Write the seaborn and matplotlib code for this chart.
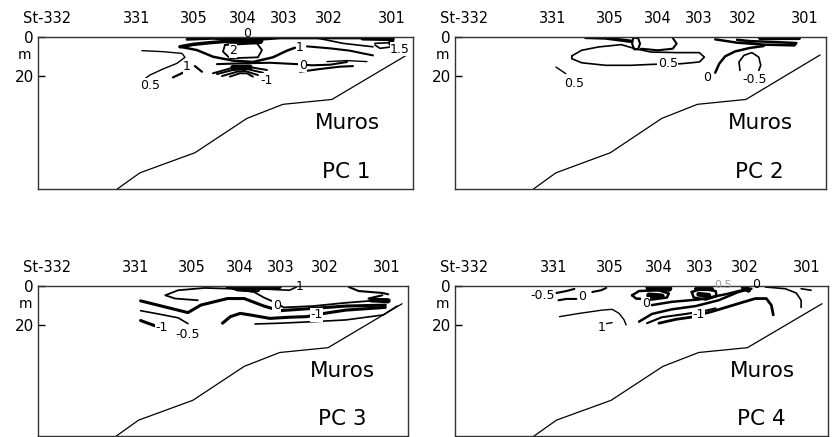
import matplotlib
matplotlib.use("Agg")
import matplotlib.pyplot as plt
import seaborn as sns

# ---------------- data ----------------
stations = ["St-332", "331", "305", "304", "303", "302", "301"]
station_x = [0.9, 9.9, 15.6, 20.5, 24.6, 29.1, 35.4]          # distance along section (km)
depth_ticks = [0, 20]                                          # m

bottom_x = [7.9, 10.2, 15.7, 20.9, 24.5, 29.4, 36.9]          # sea-floor profile
bottom_d = [78.0, 69.6, 59.3, 41.7, 34.5, 32.0, 9.2]

panel_names = ["PC 1", "PC 2", "PC 3", "PC 4"]
place_name = "Muros"

# contour isolines: name -> (distance, depth)
PC1_LINES = {
    "zero_top": ([14.9, 17.5, 19.5, 22.2, 24.2, 29.5, 32.2, 35.5], [1.2, 0.7, 1.2, 1.2, 0.5, 0.5, 0.5, 0.85]),
    "blob304": ([18.9, 22.2], [1.6, 1.9]),
    "blob301": ([32.5, 35.4, 35.3], [0.4, 0.7, 3.2]),
    "one_up": ([14.2, 15.5, 17.2, 18.9], [5.0, 3.8, 2.9, 2.2]),
    "one": ([14.2, 15.9, 17.5, 19.5, 21.5, 23.5, 24.9, 25.7], [5.0, 6.7, 10.1, 12.1, 12.8, 10.4, 7.0, 5.5]),
    "one_r": ([26.9, 29.2, 31.2, 32.5, 33.5], [4.8, 5.8, 7.0, 8.4, 9.4]),
    "two": ([18.7, 21.9, 22.4, 22.0, 19.2, 18.5, 18.7], [4.1, 3.25, 6.7, 10.4, 10.9, 7.5, 4.1]),
    "zero": ([17.9, 20.2, 23.2, 25.9, 27.4, 29.2, 30.9], [13.9, 13.5, 13.2, 13.9, 14.5, 14.2, 12.8]),
    "r1": ([28.9, 30.9, 32.9], [12.6, 12.1, 12.6]),
    "r2": ([26.2, 28.2, 30.2, 31.5], [17.8, 16.4, 15.2, 14.9]),
    "one_half": ([33.7, 35.2, 35.5, 34.2, 33.7], [3.25, 2.9, 5.0, 5.8, 4.1]),
    "top_r": ([24.9, 27.9, 30.5, 33.5], [0.2, 0.5, 3.25, 5.0]),
    "m1a": ([17.5, 19.5, 20.9, 22.9], [18.6, 15.7, 15.2, 16.9]),
    "m1b": ([17.9, 19.5, 20.9, 22.5], [19.0, 16.9, 16.4, 18.3]),
    "m1c": ([18.4, 19.9, 20.7, 22.0], [20.0, 17.8, 17.4, 19.5]),
    "m1d": ([19.2, 20.2, 20.9, 21.5], [20.3, 18.6, 18.6, 20.3]),
    "m1_core": ([19.5, 21.2], [15.7, 15.5]),
    "half": ([10.4, 12.5, 14.4, 14.7, 13.9, 12.5, 11.2, 10.5], [7.0, 7.5, 8.4, 10.4, 13.5, 16.4, 19.5, 22.1]),
    "one_l1": ([13.5, 14.5], [20.7, 18.3]),
    "one_l2": ([15.7, 16.4], [14.9, 17.8]),
}
PC1_LABELS = [("0", 20.9, -1.8), ("2", 19.5, 7.0), ("1", 26.2, 5.2), ("1.5", 36.2, 6.3),
              ("0", 26.5, 14.6), ("-1", 22.9, 22.1), ("0.5", 11.2, 24.6), ("1", 14.9, 15.2)]

PC2_LINES = {
    "top": ([13.2, 15.2, 17.8], [0.2, 0.5, 2.2]),
    "zero_loop": ([18.0, 18.5, 18.7, 18.5, 18.1, 17.9, 18.0], [0.5, 0.5, 3.4, 6.3, 6.3, 3.4, 0.5]),
    "hook": ([18.8, 20.5, 22.0, 22.4, 22.0], [6.0, 6.8, 6.0, 3.4, 0.5]),
    "half_loop": ([11.8, 12.8, 14.5, 16.8, 18.2, 19.8, 22.5, 24.7, 25.2, 24.7, 22.8, 20.0, 17.8, 15.2, 12.8, 11.8, 11.8],
                  [9.7, 6.8, 5.1, 3.9, 6.0, 7.7, 8.0, 8.0, 10.3, 12.8, 13.7, 14.0, 14.5, 14.5, 13.2, 11.1, 9.7]),
    "half_l": ([10.2, 11.2], [15.4, 18.8]),
    "flat_loop": ([26.3, 28.5, 31.2, 34.3, 34.5, 32.5, 29.8, 28.5], [1.2, 2.9, 3.9, 4.3, 3.1, 2.6, 2.1, 1.4]),
    "top_r": ([30.8, 34.8], [0.3, 0.3]),
    "zero_r": ([26.3, 26.7, 27.3, 28.3, 29.8, 31.2], [18.3, 13.7, 9.9, 7.4, 5.6, 4.6]),
    "neg_half": ([28.8, 28.7, 29.2, 30.0, 30.7, 30.9, 30.7], [17.1, 12.8, 9.4, 8.0, 10.3, 14.5, 17.1]),
}
PC2_LABELS = [("0.5", 21.5, 13.7), ("0.5", 12.0, 23.9), ("0", 25.5, 21.0), ("-0.5", 30.3, 21.7)]

PC3_LINES = {
    "top": ([19.2, 21.5, 24.5], [0.3, 1.2, 0.5]),
    "blob": ([20.2, 22.2], [1.0, 1.5]),
    "upper": ([16.2, 13.9, 12.9, 14.2, 16.9, 19.5, 21.9, 22.9, 23.9, 24.9, 27.9, 31.2, 34.5, 35.4],
              [7.4, 6.5, 4.8, 2.2, 1.0, 1.4, 3.1, 6.0, 8.2, 11.1, 10.4, 8.7, 7.4, 7.0]),
    "top303": ([22.5, 25.5, 26.2], [1.5, 2.2, 0.5]),
    "zero_thick": ([10.4, 15.2, 16.5, 19.2, 20.9, 22.9, 24.5, 27.9, 31.2, 35.2],
                   [7.7, 13.8, 9.9, 6.5, 6.5, 10.4, 12.8, 11.6, 10.4, 9.9]),
    "neg_half": ([10.4, 12.2, 14.2, 15.2], [12.8, 14.5, 16.5, 19.5]),
    "neg1_l": ([10.4, 11.9], [17.9, 20.7]),
    "neg1": ([18.7, 19.5, 20.5, 21.5, 23.5, 25.5, 27.2, 28.2, 29.0, 31.2, 35.2],
             [19.3, 15.9, 14.2, 15.0, 16.8, 16.2, 15.9, 15.0, 14.2, 12.5, 11.1]),
    "lower": ([22.0, 24.5, 27.9, 31.2, 35.0, 36.4], [19.7, 19.3, 18.5, 17.6, 15.0, 10.4]),
    "r_top": ([31.5, 32.5, 34.9, 35.5], [0.5, 2.6, 3.6, 4.3]),
    "r_c": ([34.9, 33.5, 34.9, 35.5], [4.8, 6.5, 8.2, 8.5]),
    "r_knot": ([33.8, 35.5], [7.3, 7.6]),
}
PC3_LABELS = [("0", 24.2, 9.9), ("-1", 28.2, 15.0), ("-1", 12.5, 21.4), ("-0.5", 15.2, 25.3), ("1", 26.5, 0.3)]

PC4_LINES = {
    "s1": ([10.2, 11.2, 12.0], [3.6, 2.6, 1.5]),
    "s2": ([10.4, 11.2, 12.2], [7.4, 6.7, 6.7]),
    "s3": ([13.8, 14.7, 15.2], [3.1, 2.2, 1.0]),
    "loop304": ([17.8, 18.5, 20.5, 21.5, 21.3, 19.8, 18.2, 17.8], [4.8, 2.6, 2.2, 3.9, 6.0, 7.0, 6.5, 4.8]),
    "in304": ([19.5, 20.8], [4.8, 5.3]),
    "top304": ([19.5, 21.5], [0.8, 1.2]),
    "loop303": ([23.8, 24.8, 26.2, 26.3, 25.2, 24.0, 23.8], [3.1, 1.4, 2.6, 5.3, 7.0, 6.0, 3.1]),
    "in303": ([24.5, 25.5], [4.3, 4.8]),
    "top303": ([24.2, 25.8], [1.4, 1.4]),
    "blob302": ([29.0, 29.5], [0.5, 2.0]),
    "a1": ([19.8, 21.8, 24.5, 27.2, 29.5], [9.9, 8.2, 7.0, 4.3, 1.4]),
    "a2": ([18.5, 19.8, 21.8, 24.2, 26.5, 28.5, 29.8], [18.5, 14.5, 12.1, 10.4, 7.4, 3.1, 1.4]),
    "a3": ([19.3, 20.8, 23.2, 25.2, 26.2], [19.3, 16.2, 14.5, 12.8, 11.6]),
    "neg1": ([20.5, 22.2, 23.7, 24.5, 25.8, 28.5, 30.2, 31.3, 31.8, 32.0],
             [19.3, 17.3, 16.2, 15.0, 13.3, 9.1, 6.5, 6.5, 9.9, 15.0]),
    "r1": ([31.2, 33.2, 34.3, 34.8, 34.8], [0.5, 1.4, 3.6, 7.4, 11.1]),
    "r2": ([34.8, 35.8], [1.4, 2.2]),
    "one": ([10.5, 12.5, 14.8, 15.8, 16.5, 17.0, 17.2], [15.9, 14.2, 12.5, 12.1, 14.2, 17.6, 20.2]),
    "one_dash": ([15.0, 15.8], [19.7, 19.0]),
}
PC4_LABELS = [("-0.5", 8.8, 4.8), ("0", 12.8, 5.3), ("0", 19.2, 9.1), ("-1", 24.5, 15.0),
              ("1", 14.7, 21.4), ("0", 30.3, -0.6)]

# ---------------- styles ----------------
WIDTHS = {
    0: {"zero_top": 2.0, "blob304": 5, "blob301": 4, "one_up": 2.5, "one": 1.8, "one_r": 1.5,
        "two": 1.3, "zero": 1.5, "r1": 1.0, "r2": 1.5, "one_half": 1.2, "top_r": 1.2,
        "m1a": 1.4, "m1b": 1.4, "m1c": 1.4, "m1d": 1.4, "m1_core": 4, "half": 1.0,
        "one_l1": 1.6, "one_l2": 1.6},
    1: {"top": 2.5, "zero_loop": 1.5, "hook": 1.5, "half_loop": 1.2, "half_l": 1.0, "flat_loop": 1.8,
        "top_r": 3.0, "zero_r": 1.8, "neg_half": 1.2},
    2: {"top": 3.0, "blob": 5, "upper": 1.3, "top303": 1.2, "zero_thick": 2.2, "neg_half": 1.2,
        "neg1_l": 2.2, "neg1": 2.2, "lower": 1.2, "r_top": 1.5, "r_c": 1.5, "r_knot": 3.5},
    3: {"s1": 1.5, "s2": 1.5, "s3": 1.5, "loop304": 1.8, "in304": 4, "top304": 5, "loop303": 1.8,
        "in303": 3.5, "top303": 3, "blob302": 4, "a1": 1.8, "a2": 1.8, "a3": 1.5, "neg1": 2.0,
        "r1": 1.2, "r2": 1.2, "one": 1.0, "one_dash": 1.0},
}

sns.set_theme(style="white")
plt.rcParams["font.family"] = ["DejaVu Sans"]
plt.rcParams["text.color"] = "black"
plt.rcParams["xtick.color"] = "black"
plt.rcParams["ytick.color"] = "black"
plt.rcParams["axes.labelcolor"] = "black"

fig = plt.figure(figsize=(8.4, 4.37), dpi=100)
rects = [
    [0.0452, 0.5675, 0.4464, 0.3478],
    [0.5417, 0.5675, 0.4417, 0.3478],
    [0.0452, 0.0020, 0.4405, 0.3435],
    [0.5417, 0.0020, 0.4440, 0.3435],
]
all_lines = [PC1_LINES, PC2_LINES, PC3_LINES, PC4_LINES]
all_labels = [PC1_LABELS, PC2_LABELS, PC3_LABELS, PC4_LABELS]

for i, rect in enumerate(rects):
    ax = fig.add_axes(rect)
    # sea floor
    sns.lineplot(x=bottom_x, y=bottom_d, ax=ax, sort=False, estimator=None,
                 color="black", linewidth=0.9)
    # isolines
    for name, (xs, ds) in all_lines[i].items():
        sns.lineplot(x=xs, y=ds, ax=ax, sort=False, estimator=None,
                     color="black", linewidth=WIDTHS[i][name], solid_capstyle="round")
    for s, x, d in all_labels[i]:
        kw = {}
        if d > 1.0:
            kw["bbox"] = dict(facecolor="white", edgecolor="none", pad=0.4)
        ax.text(x, d, s, ha="center", va="center", fontsize=9, zorder=5, clip_on=False, **kw)
    if i == 3:
        ax.text(27.0, -0.6, "0.5", ha="center", va="center", fontsize=8, color="#999999", clip_on=False)

    ax.text(30.9, 44.0, place_name, ha="center", va="center", fontsize=15.5)
    ax.text(30.8, 69.2, panel_names[i], ha="center", va="center", fontsize=15.5)

    ax.set_xlim(0, 37.5)
    ax.set_ylim(77.9, 0)
    ax.set_xticks(station_x)
    ax.set_xticklabels(stations)
    ax.xaxis.tick_top()
    ax.tick_params(axis="x", length=0, pad=8, labelsize=10.5)
    ax.set_yticks(depth_ticks)
    ax.set_yticklabels([str(v) for v in depth_ticks])
    ax.tick_params(axis="y", direction="in", length=5, width=1, pad=3, labelsize=11, left=True)
    ax.text(-1.3, 9.3, "m", ha="center", va="center", fontsize=10, clip_on=False)
    ax.set_xlabel("")
    ax.set_ylabel("")
    for sp in ax.spines.values():
        sp.set_visible(True)
        sp.set_color("#333333")
        sp.set_linewidth(1.0)

fig.savefig("out.png", dpi=100, facecolor="white")
